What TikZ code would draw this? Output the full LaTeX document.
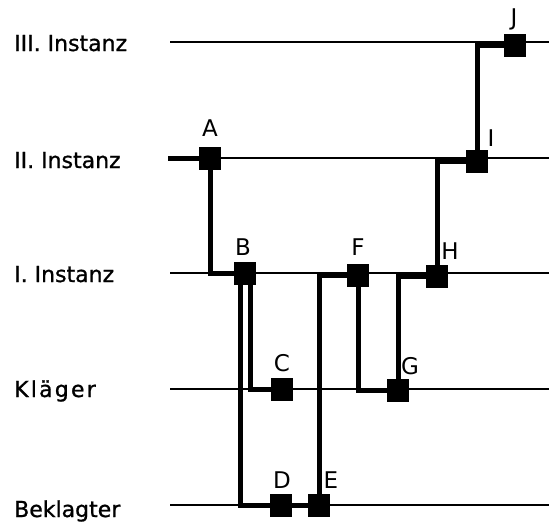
\documentclass[tikz,border=0pt]{standalone}
\usepackage{fontspec}
\setmainfont{DejaVu Sans}
\newfontfamily\sidefont[FakeBold=1]{DejaVu Sans}
\newfontfamily\klfont[LetterSpace=10,FakeBold=1]{DejaVu Sans}
\begin{document}
\begin{tikzpicture}[x=1pt,y=-1pt,
  base/.style={line width=2.2pt},
  conn/.style={line width=5pt},
  box/.style={draw=none,fill=black,minimum width=22pt,minimum height=23pt,inner sep=0pt},
  lbl/.style={font=\fontsize{23}{27}\selectfont,inner sep=0pt},
  side/.style={font=\fontsize{22}{26}\sidefont,inner sep=0pt,anchor=base west}]
\useasboundingbox (0,0) rectangle (549,522);
% base lines
\foreach \n/\y in {3/42,2/158,1/273,k/389,b/505}{
  \coordinate (L\n) at (170,\y);
  \coordinate (R\n) at (549,\y);
  \draw[base] (L\n) -- (R\n);
}
% side labels
\node[side] (t3) at (14,51) {III. Instanz};
\node[side] (t2) at (14,168) {II. Instanz};
\node[side] (t1) at (14,282) {I. Instanz};
\node[side,font=\fontsize{22}{26}\klfont] (tk) at (14,397) {Kläger};
\node[side] (tb) at (14,517) {Beklagter};
% boxes
\node[box] (A) at (210,158) {};
\node[box] (B) at (245,273) {};
\node[box] (C) at (282,389) {};
\node[box] (D) at (281,505) {};
\node[box] (E) at (319,505) {};
\node[box] (F) at (358,275) {};
\node[box] (G) at (398,390) {};
\node[box] (H) at (437,276) {};
\node[box] (I) at (477,161) {};
\node[box] (J) at (515,45) {};
% letters
\node[lbl] (lA) at (210,128) {A};
\node[lbl] (lB) at (243,247) {B};
\node[lbl] (lC) at (282,363) {C};
\node[lbl] (lD) at (282,480) {D};
\node[lbl] (lE) at (331,480) {E};
\node[lbl] (lF) at (358,247) {F};
\node[lbl] (lG) at (410,366) {G};
\node[lbl] (lH) at (450,251) {H};
\node[lbl] (lI) at (491,138) {I};
\node[lbl] (lJ) at (514,19) {J};
% connectors
\coordinate (a0) at (168,158);
\draw[conn] (a0) -- (A);
\draw[conn] (A.center) |- (B.center);
\draw[conn] ([xshift=5pt]B.center) |- (C.center);
\draw[conn] ([xshift=-5pt]B.center) |- (D.center);
\draw[conn] (D.center) -- (E.center);
\draw[conn] (E.center) |- (F.center);
\draw[conn] (F.center) |- (G.center);
\draw[conn] (G.center) |- (H.center);
\draw[conn] (H.center) |- (I.center);
\draw[conn] (I.center) |- (J.center);
\end{tikzpicture}
\end{document}
